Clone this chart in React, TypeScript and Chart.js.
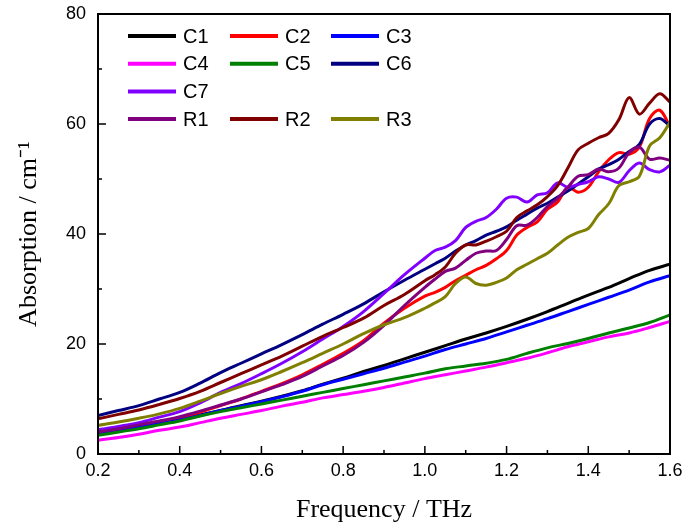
import React, { useEffect, useRef } from "react";
import { Chart, registerables } from "chart.js";

Chart.register(...registerables);

// Frequency grids (THz)
const FREQ_A = [0.2, 0.25, 0.3, 0.35, 0.4, 0.45, 0.5, 0.55, 0.6, 0.65, 0.7, 0.75, 0.8, 0.85, 0.9, 0.95, 1.0, 1.05, 1.1, 1.15, 1.2, 1.25, 1.3, 1.35, 1.4, 1.45, 1.5, 1.55, 1.6];
const FREQ_B = [0.2, 0.25, 0.3, 0.35, 0.4, 0.45, 0.5, 0.55, 0.6, 0.65, 0.7, 0.75, 0.8, 0.85, 0.9, 0.95, 1.0,
  1.025, 1.05, 1.075, 1.1, 1.125, 1.15, 1.175, 1.2, 1.225, 1.25, 1.275, 1.3, 1.325, 1.35, 1.375, 1.4, 1.425, 1.45, 1.475, 1.5, 1.525, 1.55, 1.575, 1.6];

// Absorption (cm^-1)
const C1 = [4.0, 4.5, 5.0, 5.6, 6.2, 7.1, 7.9, 8.8, 9.6, 10.5, 11.5, 12.7, 13.8, 15.0, 16.1, 17.3, 18.5, 19.7, 20.9, 22.0, 23.2, 24.5, 25.9, 27.4, 28.9, 30.3, 31.9, 33.4, 34.5];
const C3 = [3.8, 4.3, 4.9, 5.5, 6.2, 7.0, 7.9, 8.7, 9.5, 10.4, 11.4, 12.6, 13.6, 14.6, 15.6, 16.7, 17.8, 19.0, 20.0, 21.0, 22.2, 23.4, 24.6, 25.9, 27.2, 28.5, 29.8, 31.3, 32.4];
const C4 = [2.5, 3.0, 3.6, 4.3, 4.9, 5.7, 6.5, 7.2, 7.9, 8.7, 9.4, 10.2, 10.8, 11.4, 12.1, 12.9, 13.7, 14.4, 15.1, 15.8, 16.6, 17.4, 18.4, 19.5, 20.4, 21.3, 22.0, 23.0, 24.1];
const C5 = [3.4, 4.0, 4.6, 5.3, 6.0, 6.9, 7.7, 8.4, 9.1, 9.8, 10.5, 11.2, 11.9, 12.6, 13.3, 14.0, 14.7, 15.5, 16.0, 16.5, 17.2, 18.3, 19.3, 20.1, 21.0, 22.0, 22.9, 23.9, 25.3];

const C2 = [3.8, 4.4, 5.0, 5.8, 6.6, 7.6, 8.8, 10.0, 11.4, 12.8, 14.4, 16.3, 18.3, 20.6, 23.8, 26.5, 28.7,
  29.4, 30.3, 31.5, 32.5, 33.5, 34.3, 35.5, 37.0, 39.8, 41.2, 42.2, 44.5, 45.8, 48.5, 47.6, 48.5, 51.3, 53.5, 54.8, 54.5, 55.8, 61.0, 62.5, 59.5];
const C6 = [7.0, 7.9, 8.8, 10.0, 11.2, 12.9, 14.8, 16.5, 18.2, 19.9, 21.7, 23.6, 25.4, 27.3, 29.5, 31.6, 33.6,
  34.6, 35.6, 36.9, 38.0, 38.8, 39.8, 40.5, 41.3, 42.5, 43.6, 44.7, 45.6, 46.7, 47.8, 49.1, 50.4, 51.8, 52.6, 53.6, 55.0, 56.3, 60.0, 61.0, 59.6];
const C7 = [4.4, 5.0, 5.7, 6.7, 7.7, 9.3, 11.2, 12.8, 14.6, 16.5, 18.6, 20.9, 23.2, 25.9, 29.2, 32.6, 35.6,
  37.0, 37.6, 38.8, 41.2, 42.3, 43.0, 44.5, 46.5, 46.7, 45.8, 47.1, 47.5, 49.3, 48.5, 49.0, 49.5, 50.4, 50.0, 49.4, 51.5, 52.9, 51.7, 51.3, 52.5];
const R1 = [4.0, 4.6, 5.3, 6.0, 6.8, 7.8, 8.9, 10.0, 11.3, 12.6, 14.1, 16.0, 17.9, 20.3, 23.4, 27.0, 30.3,
  31.8, 33.2, 33.8, 35.2, 36.5, 36.9, 37.0, 39.0, 41.5, 41.6, 43.0, 45.0, 46.5, 48.5, 50.5, 50.8, 51.8, 51.3, 52.0, 54.8, 55.8, 53.6, 53.8, 53.4];
const R2 = [6.4, 7.2, 8.0, 9.0, 10.1, 11.4, 13.0, 14.6, 16.2, 17.8, 19.6, 21.4, 23.0, 24.7, 27.0, 29.0, 31.5,
  32.6, 34.0, 36.5, 38.0, 38.0, 38.7, 39.5, 40.5, 43.0, 44.2, 45.3, 46.8, 48.8, 52.0, 55.3, 56.5, 57.5, 58.3, 60.8, 64.8, 61.8, 63.8, 65.5, 64.0];
const R3 = [5.2, 5.8, 6.5, 7.3, 8.3, 9.6, 11.0, 12.3, 13.5, 15.0, 16.6, 18.3, 20.0, 21.9, 23.5, 24.8, 26.5,
  27.5, 28.6, 31.0, 32.2, 31.0, 30.7, 31.2, 32.0, 33.5, 34.5, 35.5, 36.5, 38.0, 39.4, 40.3, 41.0, 43.5, 45.5, 48.8, 49.5, 50.5, 56.0, 57.5, 60.3];

const X_TITLE = "Frequency / THz";
const Y_TITLE = "Absorption / cm\u207B\u00B9";

const SERIES = [
  { label: "C1", freq: FREQ_A, values: C1, color: "#000000" },
  { label: "C2", freq: FREQ_B, values: C2, color: "#ff0000" },
  { label: "C3", freq: FREQ_A, values: C3, color: "#0000ff" },
  { label: "C4", freq: FREQ_A, values: C4, color: "#ff00ff" },
  { label: "C5", freq: FREQ_A, values: C5, color: "#008000" },
  { label: "C6", freq: FREQ_B, values: C6, color: "#000080" },
  { label: "C7", freq: FREQ_B, values: C7, color: "#8000ff" },
  { label: "R1", freq: FREQ_B, values: R1, color: "#800080" },
  { label: "R2", freq: FREQ_B, values: R2, color: "#800000" },
  { label: "R3", freq: FREQ_B, values: R3, color: "#808000" },
];

const LEGEND_ROWS = [["C1", "C2", "C3"], ["C4", "C5", "C6"], ["C7"], ["R1", "R2", "R3"]];

const SANS = "'Liberation Sans', Arial, sans-serif";
const SERIF = "'Liberation Serif', 'Times New Roman', serif";

const framePlugin = {
  id: "frame",
  afterDatasetsDraw(chart: any) {
    const { ctx, chartArea: a, scales } = chart;
    ctx.save();
    ctx.strokeStyle = "#000";
    ctx.lineWidth = 1.5;
    const xs = scales.x;
    const ys = scales.y;
    const xv = xs.ticks.map((t: any) => t.value);
    const yv = ys.ticks.map((t: any) => t.value);
    ctx.beginPath();
    xv.forEach((v: number, i: number) => {
      const px = xs.getPixelForValue(v);
      ctx.moveTo(px, a.bottom);
      ctx.lineTo(px, a.bottom - 8);
      if (i < xv.length - 1) {
        const pm = xs.getPixelForValue((v + xv[i + 1]) / 2);
        ctx.moveTo(pm, a.bottom);
        ctx.lineTo(pm, a.bottom - 4);
      }
    });
    yv.forEach((v: number, i: number) => {
      const py = ys.getPixelForValue(v);
      ctx.moveTo(a.left, py);
      ctx.lineTo(a.left + 8, py);
      if (i < yv.length - 1) {
        const pm = ys.getPixelForValue((v + yv[i + 1]) / 2);
        ctx.moveTo(a.left, pm);
        ctx.lineTo(a.left + 4, pm);
      }
    });
    ctx.stroke();
    ctx.lineWidth = 2;
    ctx.strokeRect(a.left, a.top, a.right - a.left, a.bottom - a.top);

    // legend
    const colX = [a.left + 30, a.left + 132, a.left + 233];
    ctx.font = `20px ${SANS}`;
    ctx.textBaseline = "middle";
    ctx.textAlign = "left";
    LEGEND_ROWS.forEach((row, r) => {
      const cy = a.top + 22 + r * 27.7;
      row.forEach((name, c) => {
        const ds = chart.data.datasets.find((d: any) => d.label === name);
        const x0 = colX[c];
        ctx.strokeStyle = ds.borderColor;
        ctx.lineWidth = 4;
        ctx.beginPath();
        ctx.moveTo(x0, cy);
        ctx.lineTo(x0 + 48, cy);
        ctx.stroke();
        ctx.fillStyle = "#000";
        ctx.fillText(name, x0 + 55, cy + 1);
      });
    });
    ctx.restore();
  },
};

export default function App() {
  const ref = useRef<HTMLCanvasElement | null>(null);
  useEffect(() => {
    if (!ref.current) return;
    const n = SERIES.length;
    const chart = new Chart(ref.current, {
      type: "line",
      data: {
        datasets: SERIES.map((s, i) => ({
          label: s.label,
          data: s.freq.map((f, j) => ({ x: f, y: s.values[j] })),
          borderColor: s.color,
          backgroundColor: s.color,
          borderWidth: 3,
          pointRadius: 0,
          tension: 0.35,
          fill: false,
          order: n - 1 - i,
        })),
      },
      options: {
        responsive: false,
        animation: false,
        layout: { padding: { top: 14, right: 17, left: 0, bottom: 0 } },
        plugins: { legend: { display: false }, tooltip: { enabled: false }, title: { display: false } },
        scales: {
          x: {
            type: "linear",
            min: 0.2,
            max: 1.6,
            grid: { display: false, drawTicks: false },
            border: { display: false },
            ticks: {
              stepSize: 0.2,
              padding: 6,
              maxRotation: 0,
              autoSkip: false,
              color: "#000",
              font: { family: SANS, size: 18 },
              callback: (v: any) => Number(v).toFixed(1),
            },
            title: {
              display: true,
              text: X_TITLE,
              color: "#000",
              font: { family: SERIF, size: 26 },
              padding: { top: 0, bottom: 1 },
            },
            afterFit: (s: any) => { s.height = 73; s.paddingLeft = 0; s.paddingRight = 0; },
          },
          y: {
            type: "linear",
            min: 0,
            max: 80,
            grid: { display: false, drawTicks: false },
            border: { display: false },
            ticks: {
              stepSize: 20,
              padding: 12,
              color: "#000",
              font: { family: SANS, size: 18 },
              callback: (v: any) => String(v),
            },
            title: {
              display: true,
              text: Y_TITLE,
              color: "#000",
              font: { family: SERIF, size: 26 },
              padding: { top: 14, bottom: 0 },
            },
            afterFit: (s: any) => { s.width = 98; s.paddingTop = 0; s.paddingBottom = 0; },
          },
        },
      },
      plugins: [framePlugin],
    });
    return () => chart.destroy();
  }, []);
  return (
    <div style={{ position: "fixed", left: 0, top: 0, width: 687, height: 527, background: "#fff" }}>
      <canvas ref={ref} width={687} height={527} style={{ display: "block" }} />
    </div>
  );
}
